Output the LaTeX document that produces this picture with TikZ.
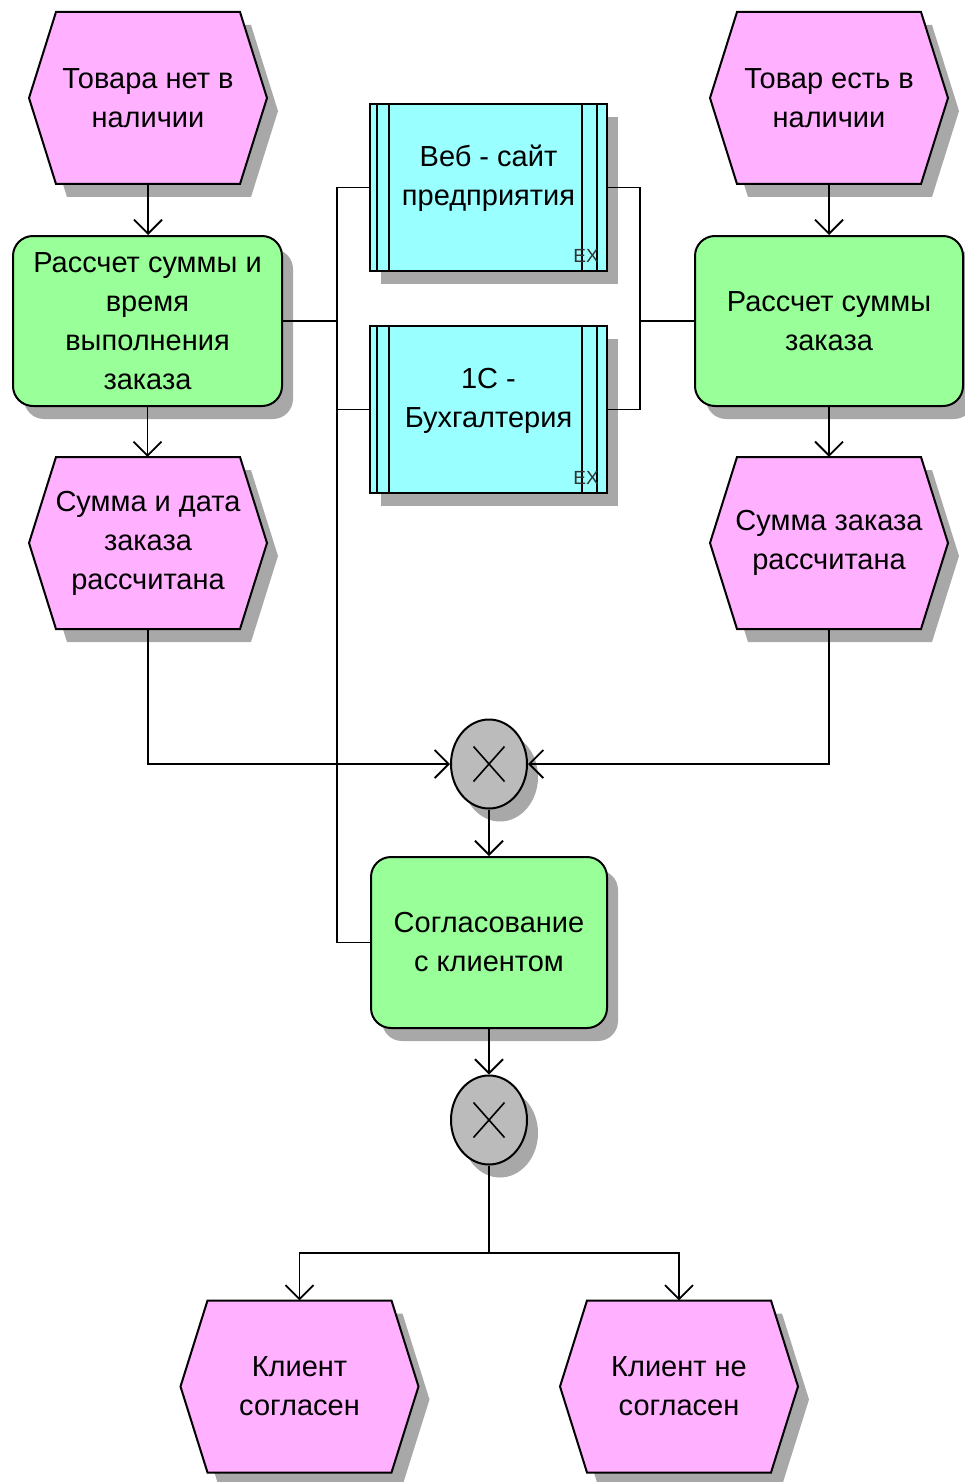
\documentclass[tikz,border=0pt]{standalone}
\usepackage{fontspec}
\setmainfont{Liberation Sans}
\usetikzlibrary{arrows.meta,shapes.geometric,calc}

\definecolor{evfill}{HTML}{FFB0FF}
\definecolor{fnfill}{HTML}{99FF99}
\definecolor{sysfill}{HTML}{99FFFF}
\definecolor{xorfill}{HTML}{BBBBBB}
\definecolor{shadowc}{HTML}{A8A8A8}

\tikzset{
  shd/.style={preaction={fill=shadowc,transform canvas={shift={(11pt,-13pt)}}}},
  lbl/.style={font=\fontsize{29}{39}\selectfont, align=center, inner sep=0pt},
  evbox/.style={lbl, minimum width=238pt, minimum height=172pt},
  fnbox/.style={lbl, draw, line width=2pt, fill=fnfill, rounded corners=20pt, shd},
  sysbox/.style={draw, line width=2pt, fill=sysfill, minimum width=237pt,
    minimum height=167pt, inner sep=0pt, shd},
  xorbox/.style={ellipse, draw, line width=2pt, fill=xorfill, minimum width=76pt,
    minimum height=89pt, inner sep=0pt, shd},
  conn/.style={line width=1.8pt},
  flow/.style={conn, -{Straight Barb[length=14pt,width=28pt]}},
  extag/.style={font=\fontsize{19}{19}\selectfont, text=black!80, inner sep=0pt},
}

% event: hexagon with shadow and a named text node on top
\newcommand\epcevent[4]{%
  \fill[shadowc,shift={(#2+11,#3+13)}]
    (-119,0) -- (-92,-86) -- (92,-86) -- (119,0) -- (92,86) -- (-92,86) -- cycle;
  \filldraw[fill=evfill,line width=2pt,shift={(#2,#3)}]
    (-119,0) -- (-92,-86) -- (92,-86) -- (119,0) -- (92,86) -- (-92,86) -- cycle;
  \node[evbox] (#1) at (#2,#3) {#4};
}

\begin{document}
\begin{tikzpicture}[x=1pt,y=-1pt]
\useasboundingbox (0,0) rectangle (964,1482);

% events
\epcevent{e1}{148}{98}{Товара нет в\\наличии}
\epcevent{e2}{829}{98}{Товар есть в\\наличии}
\epcevent{e3}{148}{543}{Сумма и дата\\заказа\\рассчитана}
\epcevent{e4}{829}{543}{Сумма заказа\\рассчитана}
\epcevent{e5}{299.5}{1386.5}{Клиент\\согласен}
\epcevent{e6}{679}{1386.5}{Клиент не\\согласен}

% functions
\node[fnbox, minimum width=269pt, minimum height=170pt] (f1) at (147.5,321)
  {Рассчет суммы и\\время\\выполнения\\заказа};
\node[fnbox, minimum width=268pt, minimum height=170pt] (f2) at (829,321)
  {Рассчет суммы\\заказа};
\node[fnbox, minimum width=236pt, minimum height=171pt] (f3) at (489,942.5)
  {Согласование\\с клиентом};

% application systems
\node[sysbox] (s1) at (488.5,187.5) {};
\node[sysbox] (s2) at (488.5,409.5) {};
\foreach \n in {s1,s2} {
  \draw[conn] ($(\n.north west)+(8,0)$) -- ($(\n.south west)+(8,0)$);
  \draw[conn] ($(\n.north west)+(20,0)$) -- ($(\n.south west)+(20,0)$);
  \draw[conn] ($(\n.north east)+(-11,0)$) -- ($(\n.south east)+(-11,0)$);
  \draw[conn] ($(\n.north east)+(-26,0)$) -- ($(\n.south east)+(-26,0)$);
}
\node[lbl] (s1t) at ($(s1.center)+(0,-9)$) {Веб - сайт\\предприятия};
\node[lbl] (s2t) at ($(s2.center)+(0,-9)$) {1С -\\Бухгалтерия};
\node[extag] (s1ex) at ($(s1.south east)+(-22,-16)$) {EX};
\node[extag] (s2ex) at ($(s2.south east)+(-22,-16)$) {EX};

% XOR connectors
\node[xorbox] (x1) at (489,764) {};
\node[xorbox] (x2) at (489,1120) {};
\foreach \n in {x1,x2} {
  \draw[line width=1.6pt] ($(\n.center)+(-15.5,-17.5)$) -- ($(\n.center)+(15.5,17.5)$);
  \draw[line width=1.6pt] ($(\n.center)+(15.5,-17.5)$) -- ($(\n.center)+(-15.5,17.5)$);
}

% system assignment lines
\coordinate (busL) at (337,0);
\coordinate (busR) at (640,0);
\draw[conn] (s1.west) -- (s1.west -| busL) |- (f3.west);
\draw[conn] (s2.west) -- (s2.west -| busL);
\draw[conn] (f1.east) -- (f1.east -| busL);
\draw[conn] (s1.east) -- (s1.east -| busR) |- (s2.east);
\draw[conn] (f2.west) -- (f2.west -| busR);

% control flow
\draw[flow] (e1.south) -- (e1.south |- f1.north);
\draw[flow] (f1.south) -- (f1.south |- e3.north);
\draw[flow] (e2.south) -- (e2.south |- f2.north);
\draw[flow] (f2.south) -- (f2.south |- e4.north);
\draw[flow] (e3.south) |- (x1.west);
\draw[flow] (e4.south) |- (x1.east);
\draw[flow] (x1.south) -- (f3.north);
\draw[flow] (f3.south) -- (x2.north);
\coordinate (split) at (489,1253);
\draw[conn] (x2.south) -- (split);
\draw[flow] (split) -| (e5.north);
\draw[flow] (split) -| (e6.north);
\end{tikzpicture}
\end{document}
